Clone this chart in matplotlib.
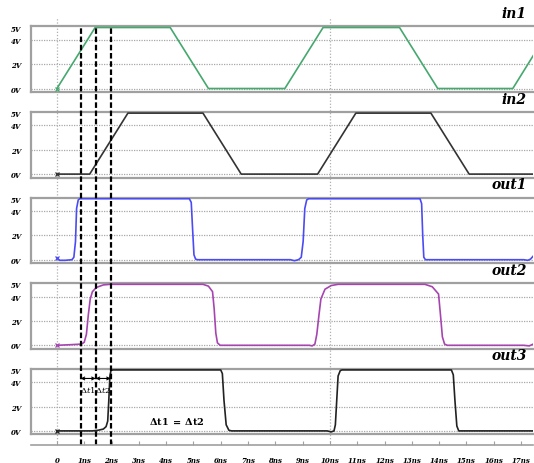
import matplotlib
matplotlib.use("Agg")
import matplotlib.pyplot as plt

plt.rcParams['mathtext.fontset'] = 'dejavuserif'

# time in ns, voltage in V
in1_t = [0, 1.4, 4.15, 5.55, 8.35, 9.75, 12.55, 13.95, 16.7, 17.45]
in1_v = [0, 5, 5, 0, 0, 5, 5, 0, 0, 2.7]

in2_t = [0, 1.2, 2.6, 5.35, 6.75, 9.55, 10.95, 13.7, 15.1, 17.45]
in2_v = [0, 0, 5, 5, 0, 0, 5, 5, 0, 0]

out1_t = [0, 0.1, 0.3, 0.55, 0.62, 0.68, 0.72, 0.78, 0.84, 4.85, 4.92, 4.97, 5.02,
          5.08, 5.15, 8.55, 8.7, 8.85, 8.95, 9.02, 9.08, 9.15, 9.22, 13.3, 13.36,
          13.4, 13.44, 13.5, 17.1, 17.25, 17.35, 17.45]
out1_v = [0.15, -0.05, -0.05, 0.0, 0.2, 1.5, 4.2, 4.9, 5.0, 5.0, 4.7, 2.5, 0.4,
          0.05, 0.0, 0.0, -0.08, 0.0, 0.2, 1.5, 4.2, 4.9, 5.0, 5.0, 4.6,
          2.0, 0.2, 0.0, 0.0, -0.05, 0.05, 0.3]

out2_t = [0, 0.5, 0.9, 1.0, 1.08, 1.15, 1.22, 1.3, 1.45, 1.7, 1.95, 5.35, 5.55,
          5.7, 5.76, 5.82, 5.88, 5.98, 9.25, 9.35, 9.45, 9.52, 9.6, 9.67, 9.82,
          10.05, 10.3, 13.48, 13.75, 13.98, 14.05, 14.12, 14.2, 14.3, 17.1, 17.3, 17.45]
out2_v = [0, 0.05, 0.1, 0.25, 0.9, 2.5, 3.8, 4.4, 4.75, 4.95, 5.0, 5.0, 4.85,
          4.4, 3.0, 1.0, 0.2, 0.0, 0.0, -0.05, 0.1, 0.9, 2.5, 3.8, 4.6,
          4.9, 5.0, 5.0, 4.8, 4.2, 2.5, 0.7, 0.1, 0.0, 0.0, -0.05, 0.1]

out3_t = [0, 1.3, 1.5, 1.7, 1.8, 1.86, 1.9, 1.94, 1.98, 2.05, 6.0, 6.06, 6.12,
          6.2, 6.3, 6.4, 9.9, 10.05, 10.15, 10.2, 10.25, 10.3, 10.38, 10.45,
          14.45, 14.52, 14.58, 14.65, 14.72, 17.45]
out3_v = [0, 0, 0.05, 0.15, 0.35, 0.8, 2.5, 4.5, 4.95, 5.0, 5.0, 4.7, 2.5,
          0.5, 0.05, 0, 0, -0.08, 0.0, 0.5, 2.5, 4.5, 4.95, 5.0,
          5.0, 4.6, 2.5, 0.4, 0.0, 0.0]

names = ['in1', 'in2', 'out1', 'out2', 'out3']
colors = ['#45a86e', '#333333', '#4b4bf5', '#a645b0', '#222222']
series = [(in1_t, in1_v), (in2_t, in2_v), (out1_t, out1_v),
          (out2_t, out2_v), (out3_t, out3_v)]

marker_t = [0.87, 1.42, 1.97]   # dashed measuring lines
tick_ns = list(range(18))
tick_labels = ['0'] + ['%dns' % i for i in tick_ns[1:]]
volt_ticks = [0, 2, 4, 5]
volt_labels = ['0V', '2V', '4V', '5V']

W, H = 534, 464
XL, XR = 31, 533
xlim = (-0.95, 17.44)
tick_font = dict(family='DejaVu Serif', weight='bold', style='italic', size=5)

fig = plt.figure(figsize=(W / 100, H / 100), dpi=100)


def fy(px):
    return 1 - px / H


# background layer: dotted reference verticals
bg = fig.add_axes([XL / W, fy(446), (XR - XL) / W, (446 - 18) / H])
bg.set_xlim(*xlim)
bg.set_ylim(0, 1)
bg.axis('off')
for t in (0, 10):
    bg.axvline(t, color='#b0b0b0', ls=(0, (1, 1.5)), lw=0.9)

panels = []
for i, (name, col, (t, v)) in enumerate(zip(names, colors, series)):
    zero_px = 89.5 + 85.6 * i
    five_px = zero_px - 61
    bot_px = zero_px + 0.28 * 12.2
    top_px = five_px - 1.2
    ax = fig.add_axes([XL / W, fy(bot_px), (XR - XL) / W, (bot_px - top_px) / H])
    ax.set_facecolor('none')
    ax.set_xlim(*xlim)
    ax.set_ylim(-0.28, 5.1)
    for g in (0, 2, 4):
        ax.axhline(g, color='#a8a8a8', ls=(0, (1, 1)), lw=0.9, zorder=1)
    ax.plot(t, v, color=col, lw=1.2, zorder=3)
    ax.plot([t[0]], [v[0]], marker='x', ms=3, mew=0.9, color=col, zorder=4)
    ax.set_xticks([])
    ax.set_yticks(volt_ticks)
    ax.set_yticklabels(volt_labels, **tick_font)
    ax.tick_params(axis='y', length=0, pad=7)
    for s in ('top', 'bottom', 'left'):
        ax.spines[s].set_color('#a0a0a0')
        ax.spines[s].set_linewidth(1.6)
    ax.spines['right'].set_visible(False)
    fig.text(527 / W, fy(five_px - 14.5), name, ha='right', va='center',
             family='DejaVu Serif', weight='bold', style='italic', size=10)
    panels.append(ax)

# Δt annotations on out3
ax3 = panels[4]
for a, b in zip(marker_t[:-1], marker_t[1:]):
    ax3.annotate('', xy=(a, 4.3), xytext=(b, 4.3),
                 arrowprops=dict(arrowstyle='<->', lw=0.8, color='k',
                                 mutation_scale=5, shrinkA=0, shrinkB=0))
ax3.text((marker_t[0] + marker_t[1]) / 2, 3.45, r'$\Delta t1$', ha='center',
         va='center', fontsize=6)
ax3.text((marker_t[1] + marker_t[2]) / 2, 3.45, r'$\Delta t2$', ha='center',
         va='center', fontsize=6)
ax3.text(4.4, 0.85, r'$\mathbf{\Delta t1\;=\;\Delta t2}$', ha='center',
         va='center', fontsize=7)

# foreground layer: time axis and dashed measuring lines
fg = fig.add_axes([XL / W, fy(446), (XR - XL) / W, (446 - 18) / H])
fg.set_facecolor('none')
fg.set_xlim(*xlim)
fg.set_ylim(0, 1)
for t in marker_t:
    fg.axvline(t, ymin=0, ymax=(446 - 28) / 428, color='k',
               ls=(0, (2.5, 1.2)), lw=1.6)
for s in ('top', 'left', 'right'):
    fg.spines[s].set_visible(False)
fg.spines['bottom'].set_color('#a0a0a0')
fg.spines['bottom'].set_linewidth(1.2)
fg.set_yticks([])
fg.set_xticks(tick_ns)
fg.set_xticklabels(tick_labels, **tick_font)
fg.tick_params(axis='x', direction='in', length=3, color='#a0a0a0', pad=8)

fig.savefig('out.png', dpi=100)
